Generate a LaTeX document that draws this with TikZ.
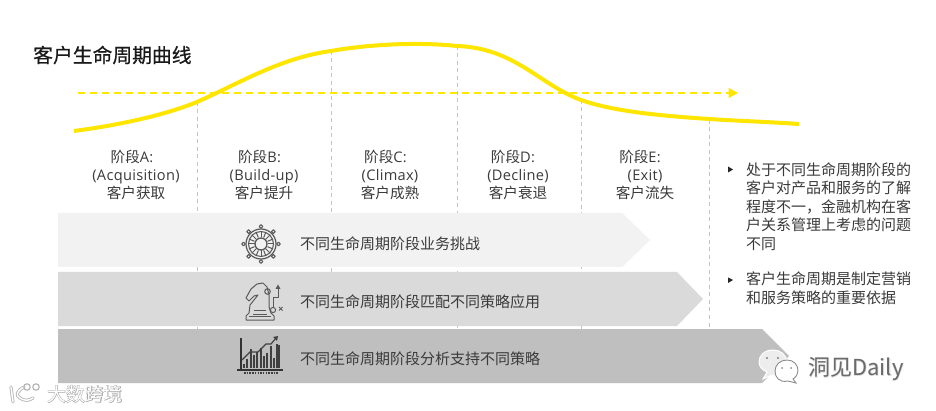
\documentclass[tikz,border=0pt]{standalone}
\usepackage{fontspec}
\setmainfont[LetterSpace=2]{Open Sans}
\newfontfamily\cjk{Noto Sans CJK SC}
\newfontfamily\cjktitle[FakeBold=0.5]{Noto Sans CJK SC}
\newfontfamily\cjkfat[FakeBold=4]{Noto Sans CJK SC}
\usetikzlibrary{arrows.meta}
\definecolor{eyyellow}{HTML}{FFE600}
\definecolor{txt}{HTML}{3A3A3A}
\definecolor{guide}{HTML}{C4C4C4}
\tikzset{
  curveline/.style={draw=eyyellow,line width=4pt},
  dashline/.style={draw=eyyellow,line width=1.6pt,dash pattern=on 7pt off 5pt,-{Triangle[length=9.5pt,width=10pt,fill=eyyellow]}},
  guideline/.style={draw=guide,line width=1pt,dash pattern=on 4pt off 3.5pt},
  stagelabel/.style={font=\fontsize{14.6}{18.2}\selectfont,text=txt,align=center,inner sep=0pt},
  bartext/.style={font=\cjk\fontsize{15}{18}\selectfont,text=txt,anchor=west,inner sep=0pt},
  sidetext/.style={font=\cjk\fontsize{15}{18.4}\selectfont,text=txt,anchor=north west,align=left,inner sep=0pt,text width=172pt},
  bulletmark/.style={fill=black!85,draw=none},
  iconline/.style={draw=#1,line width=1pt,line join=round},
}
\begin{document}
\begin{tikzpicture}[x=1pt,y=-1pt]
\useasboundingbox (0,0) rectangle (936,411);
\fill[white] (0,0) rectangle (936,411);

% guides
\coordinate (g1) at (197,102); \coordinate (g1e) at (197,330);
\coordinate (g2) at (331,51);  \coordinate (g2e) at (331,330);
\coordinate (g3) at (457,46);  \coordinate (g3e) at (457,330);
\coordinate (g4) at (581,100); \coordinate (g4e) at (581,330);
\coordinate (g5) at (709,120); \coordinate (g5e) at (709,327);
\foreach \n in {1,...,5} \draw[guideline] (g\n) -- (g\n e);

% chevrons
\fill[fill=black!5] (58,213) -- (622,213) -- (650,240) -- (622,267) -- (58,267) -- cycle;
\fill[fill=black!14.5] (58,272) -- (677,272) -- (703,299) -- (677,326) -- (58,326) -- cycle;
\fill[fill=black!25] (58,329) -- (762,329) -- (789,356) -- (762,383) -- (58,383) -- cycle;

% title
\node[anchor=west,inner sep=0pt,font=\cjktitle\fontsize{19.8}{22}\selectfont,text=black!90] (title) at (33,55) {客户生命周期曲线};

% arrow and curve
\coordinate (dashstart) at (78,93);
\coordinate (dashend) at (738,93);
\draw[dashline] (dashstart) -- (dashend);
\draw[curveline] (74,131) .. controls (120,125) and (165,115) .. (197,102)
  .. controls (240,83) and (280,58) .. (331,51)
  .. controls (370,44) and (420,42) .. (457,46)
  .. controls (515,48) and (540,85) .. (581,100)
  .. controls (615,112) and (665,116) .. (709,119)
  .. controls (740,121) and (770,122) .. (799,124);

% stage labels
\node[stagelabel] (sa) at (136,175) {{\cjk 阶段}A:\hspace*{8pt}\\(Acquisition)\\{\cjk 客户获取}};
\node[stagelabel] (sb) at (264,175) {{\cjk 阶段}B:\hspace*{9pt}\\(Build-up)\\{\cjk 客户提升}};
\node[stagelabel] (sc) at (390,175) {{\cjk 阶段}C:\hspace*{9pt}\\(Climax)\\{\cjk 客户成熟}};
\node[stagelabel] (sd) at (518,175) {{\cjk 阶段}D:\hspace*{10pt}\\(Decline)\\{\cjk 客户衰退}};
\node[stagelabel] (se) at (645,175) {{\cjk 阶段}E:\hspace*{10pt}\\(Exit)\\{\cjk 客户流失}};

% bar text
\node[bartext] (b1) at (300,244) {不同生命周期阶段业务挑战};
\node[bartext] (b2) at (300,302) {不同生命周期阶段匹配不同策略应用};
\node[bartext] (b3) at (300,359) {不同生命周期阶段分析支持不同策略};

% side notes
\fill[bulletmark] (728,166.5) -- (733,169.5) -- (728,172.5) -- cycle;
\node[sidetext] (n1) at (746,162.5) {处于不同生命周期阶段的\\客户对产品和服务的了解\\程度不一，金融机构在客\\户关系管理上考虑的问题\\不同};
\fill[bulletmark] (728,277.5) -- (733,280) -- (728,283) -- cycle;
\node[sidetext] (n2) at (746,272) {客户生命周期是制定营销\\和服务策略的重要依据};

% wheel icon
\begin{scope}[shift={(261,244)}]
  \foreach \a in {0,45,...,315} {
    \draw[iconline=black!65] (\a:6.5) -- (\a:13);
    \draw[iconline=black!65,fill=black!5] (\a:17.5) circle (1.8);
  }
  \foreach \a in {22.5,67.5,...,337.5} \draw[iconline=black!65] (\a:7) -- (\a:12);
  \draw[iconline=black!65,line width=1.3pt] (0,0) circle (6);
  \draw[iconline=black!65] (0,0) circle (12.5);
  \draw[iconline=black!65,line width=1.2pt] (0,0) circle (15);
\end{scope}

% knight icon
\begin{scope}[shift={(246,283)}]
  \draw[iconline=black!65,fill=black!14.5]
    (0,37) -- (0,33) -- (3,30) -- (4,22) -- (12,12) -- (8,13) -- (3,18) -- (0,15) -- (5,6) -- (11,1) -- (17,0) -- (21,4) -- (23,12) -- (23,24) -- (25,30) -- (28,33) -- (28,37) -- cycle;
  \draw[iconline=black!65] (8,27) -- (20,27) (7,31) -- (21,31) (3,33.5) -- (25,33.5);
  \draw[iconline=black!65] (21.5,8.5) circle (2.8);
  \draw[iconline=black!65] (27,27) circle (2.6);
  \draw[iconline=black!65] (27,24) -- (27,15) -- (32,15) -- (32,5);
  \fill[black!65] (32,1.5) -- (34.5,6) -- (29.5,6) -- cycle;
  \draw[iconline=black!65] (33,24) -- (36.5,27.5) (36.5,24) -- (33,27.5);
\end{scope}

% chart icon
\begin{scope}[shift={(241,338)}]
  \draw[black!80,line width=1.3pt] (0,0) -- (0,32);
  \draw[black!80,line width=1.6pt] (-4,32) -- (42,32);
  \foreach \x/\h in {3/4,6/9,10/19,13/13,16/16,20/20,23/12,26/15,30/22,33/10,36/24,38/23}
    \draw[black!75,line width=1.5pt] (\x,30) -- (\x,30-\h+0);
  \draw[black!75,line width=1.1pt] (1,22) -- (9,14) -- (17,14) -- (25,6) -- (30,6) -- (35,0);
  \fill[black!75] (37,-2) -- (36,3) -- (32,-1) -- cycle;
  \draw[black!75,line width=1.1pt,dash pattern=on 1.5pt off 1.2pt] (3,35) -- (38,35);
\end{scope}

% WeChat mark
\begin{scope}
  \fill[black!7,draw=white,line width=1pt] (767,372) -- (763,379) -- (772,375) .. controls (784,377) and (788,369) .. (787,362) .. controls (786,354) and (780,350) .. (773,350) .. controls (764,350) and (759,356) .. (759,362) .. controls (759,366) and (762,370) .. (767,372) -- cycle;
  \fill[black!50] (767,358) circle (1.1) (778,358) circle (1.1);
  \draw[fill=white,draw=black!45,line width=0.9pt] (793,379) -- (796,383) -- (788,381) .. controls (779,383) and (775,377) .. (775,371) .. controls (775,365) and (780,360) .. (787,360) .. controls (794,360) and (798,365) .. (798,371) .. controls (798,374) and (796,377) .. (793,379) -- cycle;
  \fill[black!45] (782,368) circle (1) (791,368) circle (1);
\end{scope}
\node[anchor=west,inner sep=0pt,text=black!12,font=\cjkfat\fontsize{22}{24}\selectfont] (wmh) at (808,369) {洞见Daily};
\node[anchor=west,inner sep=0pt,text=black!58,font=\cjk\fontsize{22}{24}\selectfont] (wm) at (808,369) {洞见Daily};

% bottom-left watermark
\draw[draw=black!28,line width=3.2pt,line cap=round] (11,387) -- (13,402) (24,387) .. controls (17,391) and (15,395) .. (20,398) .. controls (24,401) and (29,401) .. (33,398);
\draw[draw=white,line width=1.4pt,line cap=round] (11,387) -- (13,402) (24,387) .. controls (17,391) and (15,395) .. (20,398) .. controls (24,401) and (29,401) .. (33,398);
\draw[draw=black!30,line width=1.1pt] (27,387) circle (3.2) (36,387) circle (3.2);
\node[anchor=west,inner sep=0pt,text=black!33,font=\cjkfat\fontsize{18.8}{20}\selectfont] (ldsh) at (47,394) {大数跨境};
\node[anchor=west,inner sep=0pt,text=white,font=\cjk\fontsize{18.8}{20}\selectfont] (lds) at (47,394) {大数跨境};
\end{tikzpicture}
\end{document}
